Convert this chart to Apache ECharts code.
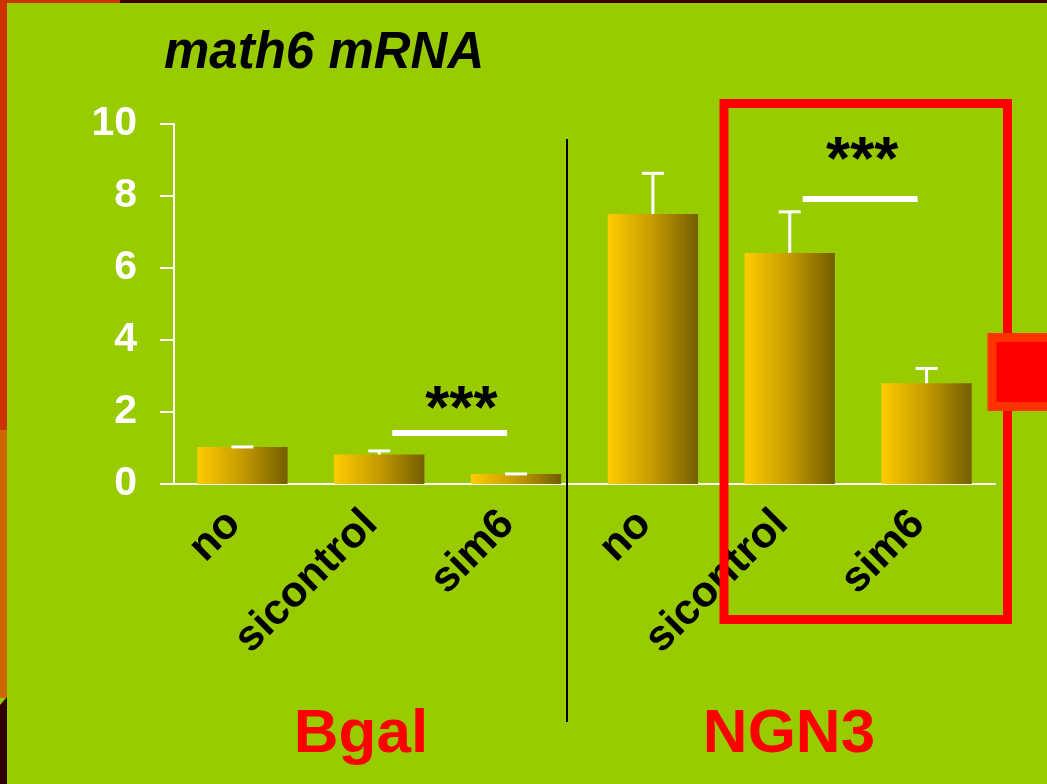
<!DOCTYPE html>
<html>
<head>
<meta charset="utf-8">
<title>math6 mRNA</title>
<script src="https://cdn.jsdelivr.net/npm/echarts@6/dist/echarts.min.js"></script>
<style>
  html, body { margin: 0; padding: 0; background: #99CC00; }
  #main { width: 1047px; height: 784px; }
</style>
</head>
<body>
<div id="main"></div>
<script>
// data
var categories = ["no", "sicontrol", "sim6", "no", "sicontrol", "sim6"];
var means = [1.03, 0.82, 0.28, 7.5, 6.42, 2.8];
var errors = [0.0, 0.1, 0.0, 1.13, 1.14, 0.41];
var yTicks = [0, 2, 4, 6, 8, 10];

// significance brackets: from index, to index, line level, star level, star position (category units)
var sigFrom = [1, 4];
var sigTo = [2, 5];
var sigLevel = [1.42, 7.92];
var starLevel = [2.46, 9.37];
var starPos = [1.6, 4.53];
var sigText = ["***", "***"];

var groupNames = ["Bgal", "NGN3"];

var FONT = "'Liberation Sans', Arial, sans-serif";

var errData = means.map(function (m, i) { return [i, m, errors[i]]; });
var sigData = sigFrom.map(function (f, i) { return [f, sigTo[i], sigLevel[i], starLevel[i], starPos[i]]; });

var barColor = new echarts.graphic.LinearGradient(0, 0, 1, 0, [
  { offset: 0, color: "#FFCC00" },
  { offset: 0.5, color: "#C49A00" },
  { offset: 1, color: "#735E00" }
]);

var myChart = echarts.init(document.getElementById("main"));

var option = {
  backgroundColor: "#99CC00",
  animation: false,
  grid: { left: 174, right: 52, top: 124, bottom: 300, containLabel: false },
  xAxis: {
    type: "category",
    data: categories,
    axisLine: { lineStyle: { color: "#FFFFFF", width: 2 } },
    axisTick: { show: false },
    axisLabel: {
      rotate: 45,
      margin: 25,
      padding: [0, 12, 0, 0],
      interval: 0,
      color: "#000000",
      fontFamily: FONT,
      fontWeight: "bold",
      fontSize: 43
    }
  },
  yAxis: {
    type: "value",
    min: yTicks[0],
    max: yTicks[yTicks.length - 1],
    interval: 2,
    axisLine: { show: true, lineStyle: { color: "#FFFFFF", width: 2 } },
    axisTick: { show: true, length: 14, lineStyle: { color: "#FFFFFF", width: 2 } },
    splitLine: { show: false },
    axisLabel: {
      margin: 37,
      color: "#FFFFFF",
      fontFamily: FONT,
      fontWeight: "bold",
      fontSize: 41
    }
  },
  series: [
    {
      type: "bar",
      data: means,
      barWidth: "66%",
      itemStyle: { color: barColor },
      z: 2
    },
    {
      // error bars
      type: "custom",
      data: errData,
      z: 3,
      renderItem: function (params, api) {
        var base = api.coord([api.value(0), api.value(1)]);
        var top = api.coord([api.value(0), api.value(1) + api.value(2)]);
        var half = 11;
        return {
          type: "group",
          children: [
            {
              type: "line",
              shape: { x1: top[0], y1: base[1], x2: top[0], y2: top[1] },
              style: { stroke: "#FFFFFF", lineWidth: 3 }
            },
            {
              type: "line",
              shape: { x1: top[0] - half, y1: top[1], x2: top[0] + half, y2: top[1] },
              style: { stroke: "#FFFFFF", lineWidth: 3 }
            }
          ]
        };
      }
    },
    {
      // significance lines with stars
      type: "custom",
      data: sigData,
      z: 3,
      renderItem: function (params, api) {
        var a = api.coord([api.value(0), api.value(2)]);
        var b = api.coord([api.value(1), api.value(2)]);
        var s = api.coord([api.value(0), api.value(3)]);
        var t = (api.value(4) - api.value(0)) / (api.value(1) - api.value(0));
        var sx = a[0] + (b[0] - a[0]) * t;
        return {
          type: "group",
          children: [
            {
              type: "line",
              shape: { x1: a[0] + 13, y1: a[1], x2: b[0] - 9, y2: b[1] },
              style: { stroke: "#FFFFFF", lineWidth: 6 }
            },
            {
              type: "text",
              x: sx,
              y: s[1] + 15,
              style: {
                text: sigText[params.dataIndex],
                fill: "#000000",
                font: "bold 62px " + FONT,
                align: "center",
                verticalAlign: "middle"
              }
            }
          ]
        };
      }
    }
  ]
};

myChart.setOption(option);

var y0 = myChart.convertToPixel({ yAxisIndex: 0 }, 0);

myChart.setOption({
  graphic: [
    // slide edges
    { type: "rect", shape: { x: 0, y: 0, width: 7, height: 430 }, style: { fill: "#CC3300" }, z: 1 },
    { type: "rect", shape: { x: 0, y: 430, width: 7, height: 268 }, style: { fill: "#CC6600" }, z: 1 },
    { type: "polygon", shape: { points: [[0, 705], [7, 697], [7, 784], [0, 784]] }, style: { fill: "#330000" }, z: 1 },
    { type: "rect", shape: { x: 0, y: 0, width: 120, height: 3 }, style: { fill: "#CC3300" }, z: 1 },
    { type: "rect", shape: { x: 120, y: 0, width: 927, height: 3 }, style: { fill: "#3D0000" }, z: 1 },
    // title
    {
      type: "text", left: 164, top: 28, z: 5,
      style: { text: "math6 mRNA", fill: "#000000", font: "italic bold 51px " + FONT }
    },
    // x axis stub left of y axis
    {
      type: "line", z: 5,
      shape: { x1: 160, y1: y0, x2: 175, y2: y0 },
      style: { stroke: "#FFFFFF", lineWidth: 2 }
    },
    // group divider
    {
      type: "line", z: 5,
      shape: { x1: 567, y1: 139, x2: 567, y2: 722 },
      style: { stroke: "#000000", lineWidth: 2 }
    },
    // group names
    {
      type: "text", x: 361, y: 766, z: 5,
      style: { text: groupNames[0], fill: "#FF0000", font: "bold 62px " + FONT, align: "center", verticalAlign: "bottom" }
    },
    {
      type: "text", x: 789, y: 766, z: 5,
      style: { text: groupNames[1], fill: "#FF0000", font: "bold 62px " + FONT, align: "center", verticalAlign: "bottom" }
    },
    // highlight box
    {
      type: "rect", z: 20,
      shape: { x: 724, y: 103.5, width: 283.5, height: 516 },
      style: { fill: "none", stroke: "#FF0000", lineWidth: 9 }
    },
    // arrow block at the right edge
    {
      type: "rect", z: 21,
      shape: { x: 992, y: 337.5, width: 70, height: 69 },
      style: { fill: "#FF0000", stroke: "#FF3300", lineWidth: 9 }
    }
  ]
});

window.addEventListener("resize", function () {
  myChart.resize();
});
</script>
</body>
</html>
